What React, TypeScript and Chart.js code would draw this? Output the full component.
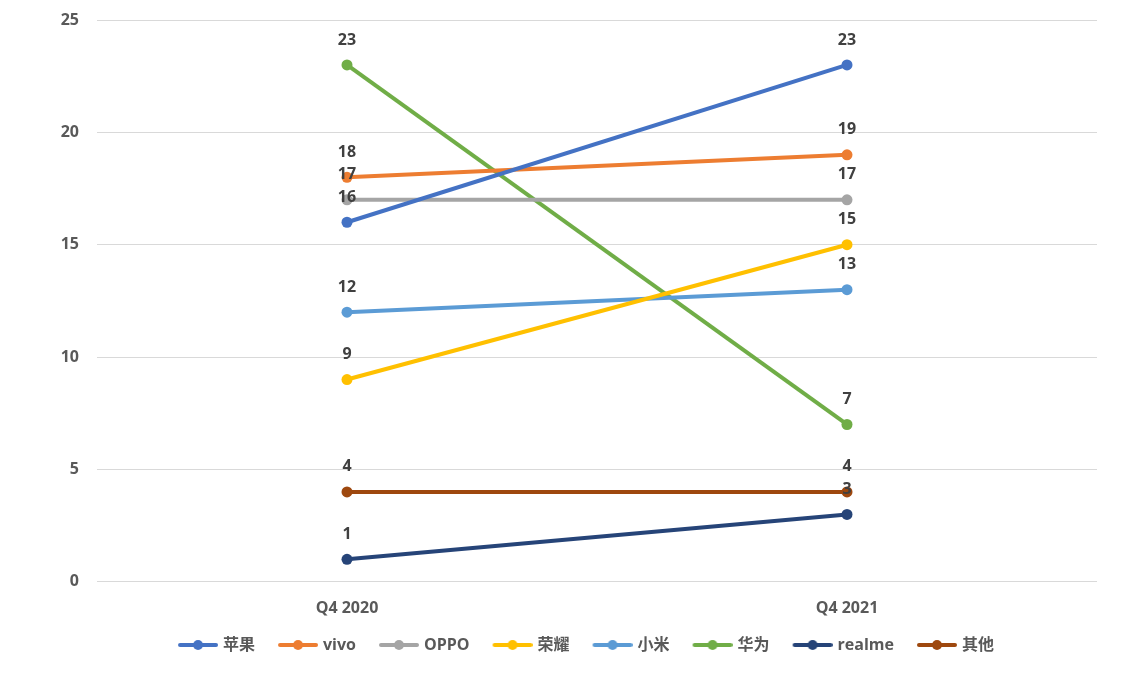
import React, { useEffect, useRef } from "react";
import { Chart, registerables } from "chart.js";

Chart.register(...registerables);

const categories = ["Q4 2020", "Q4 2021"];
const seriesNames = ["苹果", "vivo", "OPPO", "荣耀", "小米", "华为", "realme", "其他"];
const apple = [16, 23];
const vivo = [18, 19];
const oppo = [17, 17];
const honor = [9, 15];
const xiaomi = [12, 13];
const huawei = [23, 7];
const realme = [1, 3];
const others = [4, 4];
const seriesValues = [apple, vivo, oppo, honor, xiaomi, huawei, realme, others];
const seriesColors = ["#4472C4", "#ED7D31", "#A5A5A5", "#FFC000", "#5B9BD5", "#70AD47", "#264478", "#9E480E"];
const yTicks = [0, 5, 10, 15, 20, 25];

const FONT = "'Open Sans', 'Noto Sans CJK SC', sans-serif";
const ICON_W = 50;

function legendIcon(color: string): HTMLCanvasElement {
  const c = document.createElement("canvas");
  c.width = ICON_W + 6;
  c.height = 12;
  const ctx = c.getContext("2d")!;
  const x0 = c.width - 40;
  ctx.strokeStyle = color;
  ctx.lineWidth = 4;
  ctx.lineCap = "round";
  ctx.beginPath();
  ctx.moveTo(x0 + 2, 6);
  ctx.lineTo(x0 + 38, 6);
  ctx.stroke();
  ctx.fillStyle = color;
  ctx.beginPath();
  ctx.arc(x0 + 20, 6, 5, 0, Math.PI * 2);
  ctx.fill();
  return c;
}

const dataLabels = {
  id: "dataLabels",
  afterDatasetsDraw(chart: any) {
    const ctx = chart.ctx;
    ctx.save();
    ctx.font = `bold 16px ${FONT}`;
    ctx.fillStyle = "#404040";
    ctx.textAlign = "center";
    ctx.textBaseline = "middle";
    chart.data.datasets.forEach((ds: any, i: number) => {
      const meta = chart.getDatasetMeta(i);
      meta.data.forEach((pt: any, j: number) => {
        ctx.fillText(String(ds.data[j]), pt.x, pt.y - 25);
      });
    });
    ctx.restore();
  },
};

const legendShift = {
  id: "legendShift",
  afterLayout(chart: any) {
    const lg = chart.legend;
    if (lg) {
      lg.left += 31;
      lg.right += 31;
    }
  },
};

export default function App() {
  const ref = useRef<HTMLCanvasElement>(null);
  useEffect(() => {
    const icons = seriesColors.map(legendIcon);
    const chart = new Chart(ref.current!, {
      type: "line",
      data: {
        labels: categories,
        datasets: seriesNames.map((name, i) => ({
          label: name,
          data: seriesValues[i],
          borderColor: seriesColors[i],
          backgroundColor: seriesColors[i],
          borderWidth: 4,
          pointRadius: 5.5,
          pointHoverRadius: 5.5,
          pointBackgroundColor: seriesColors[i],
          pointBorderWidth: 0,
          fill: false,
        })),
      },
      options: {
        animation: false,
        responsive: false,
        events: [],
        layout: { padding: { top: 20, right: 47, left: 0, bottom: 11 } },
        scales: {
          x: {
            offset: true,
            grid: { display: false },
            border: { display: false },
            ticks: { color: "#595959", font: { family: FONT, size: 16, weight: "bold" }, padding: 9 },
          },
          y: {
            min: 0,
            max: 25,
            afterBuildTicks: (scale: any) => {
              scale.ticks = yTicks.map((v) => ({ value: v }));
            },
            afterFit: (scale: any) => {
              scale.width = 97;
              scale.paddingTop = 0;
              scale.paddingBottom = 0;
            },
            grid: { color: "#D9D9D9", lineWidth: 1, drawTicks: false },
            border: { display: false },
            ticks: { color: "#595959", font: { family: FONT, size: 16, weight: "bold" }, padding: 18 },
          },
        },
        plugins: {
          legend: {
            position: "bottom",
            labels: {
              usePointStyle: true,
              pointStyleWidth: ICON_W,
              padding: 10,
              color: "#595959",
              font: { family: FONT, size: 16, weight: "bold" },
              generateLabels: (ch: any) =>
                ch.data.datasets.map((ds: any, i: number) => ({
                  text: ds.label,
                  fillStyle: seriesColors[i],
                  strokeStyle: seriesColors[i],
                  lineWidth: 0,
                  pointStyle: icons[i],
                  datasetIndex: i,
                  hidden: false,
                  fontColor: "#595959",
                })),
            },
          },
          tooltip: { enabled: false },
        },
      },
      plugins: [dataLabels, legendShift],
    } as any);
    return () => chart.destroy();
  }, []);
  return (
    <div style={{ position: "absolute", left: 0, top: 0, width: 1144, height: 674, background: "#fff" }}>
      <canvas ref={ref} width={1144} height={674} style={{ display: "block" }} />
    </div>
  );
}
